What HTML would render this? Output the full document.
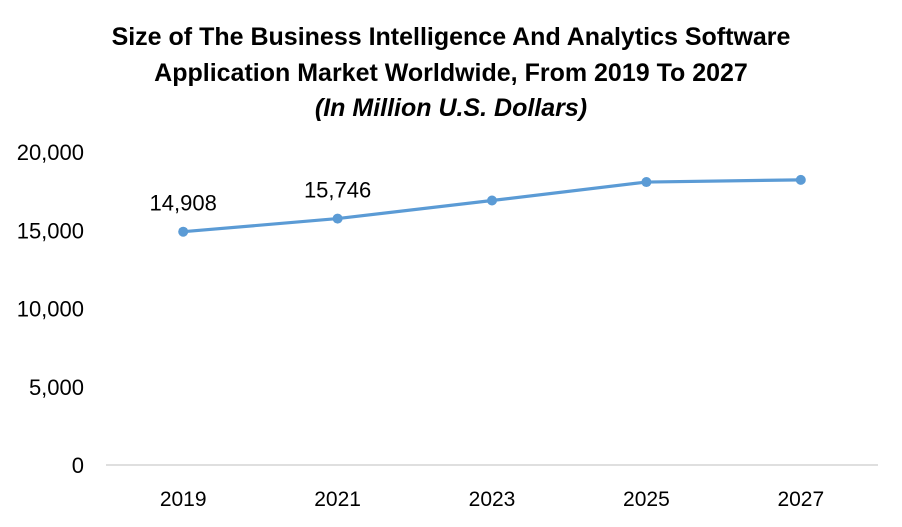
<!DOCTYPE html>
<html><head><meta charset="utf-8"><style>
body{margin:0;background:#fff;}
svg{display:block;font-family:"Liberation Sans",sans-serif;}
</style></head><body>
<svg id="chart" width="902" height="527">
<text x="451" y="45" text-anchor="middle" font-size="25" font-weight="bold" fill="#000">Size of The Business Intelligence And Analytics Software</text>
<text x="451" y="81" text-anchor="middle" font-size="25" font-weight="bold" fill="#000">Application Market Worldwide, From 2019 To 2027</text>
<text x="451" y="116" text-anchor="middle" font-size="25" font-weight="bold" font-style="italic" fill="#000">(In Million U.S. Dollars)</text>
<g id="yaxis"></g>
<g id="xaxis"></g>
<g id="series"></g>
</svg>
<script>
const categories=["2019","2021","2023","2025","2027"];
const values=[14908,15746,16900,18080,18220];
const valueLabels=["14,908","15,746",null,null,null];
const yTicks=[0,5000,10000,15000,20000];
const yTickLabels=["0","5,000","10,000","15,000","20,000"];
const NS="http://www.w3.org/2000/svg";
const left=106,right=878,y0=465,y1=152,yMax=20000;
const band=(right-left)/categories.length;
const xs=i=>left+band*(i+0.5);
const ys=v=>y0-(v/yMax)*(y0-y1);
function mk(t,a,p){const e=document.createElementNS(NS,t);for(const k in a)e.setAttribute(k,a[k]);p.appendChild(e);return e;}
const ya=document.getElementById('yaxis'),xa=document.getElementById('xaxis'),se=document.getElementById('series');
yTicks.forEach((v,i)=>{const t=mk('text',{x:84,y:ys(v)+8,'text-anchor':'end','font-size':22,fill:'#000'},ya);t.textContent=yTickLabels[i];

});
const ax=mk('line',{x1:left,x2:right,y1:y0,y2:y0,stroke:'#bfbfbf','stroke-width':1},xa);


categories.forEach((c,i)=>{const t=mk('text',{x:xs(i),y:y0+41,'text-anchor':'middle','font-size':21,fill:'#000'},xa);t.textContent=c;

});
const pts=values.map((v,i)=>xs(i)+','+ys(v)).join(' ');
const pl=mk('polyline',{points:pts,fill:'none',stroke:'#5b9bd5','stroke-width':3.2,'stroke-linejoin':'round'},se);


values.forEach((v,i)=>{const c=mk('circle',{cx:xs(i),cy:ys(v),r:5,fill:'#5b9bd5'},se);


if(valueLabels[i]){const t=mk('text',{x:xs(i),y:ys(v)-21,'text-anchor':'middle','font-size':22,fill:'#000'},se);t.textContent=valueLabels[i];

}});
</script>
</body></html>
